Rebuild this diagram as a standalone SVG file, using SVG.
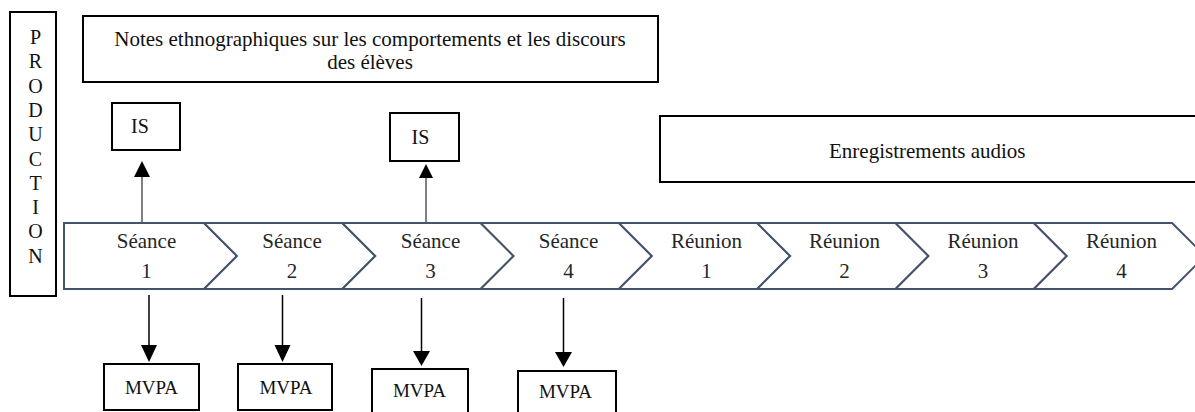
<svg xmlns="http://www.w3.org/2000/svg" width="1195" height="412" viewBox="0 0 1195 412">
<style>
  .box{fill:#fff;stroke:#000;stroke-width:2}
  .chev{fill:#fff;stroke:#44546a;stroke-width:2;stroke-linejoin:miter}
  text{font-family:'Liberation Serif',Tinos,'Times New Roman','Noto Serif','DejaVu Serif',serif;fill:#111}
  .big{font-size:21px}
  .ct{font-size:21px;fill:#262626;text-anchor:middle}
  .mid{text-anchor:middle}
  .up{stroke:#555;stroke-width:1.5;fill:none}
  .dn{stroke:#000;stroke-width:1.5;fill:none}
  .head{fill:#000}
</style>
<rect width="1195" height="412" fill="#fff"/>
<g font-family="Liberation Serif, Tinos, Times New Roman, DejaVu Serif, serif">

<g id="production">
  <rect class="box" x="10" y="12" width="46" height="284"/>
  <g class="mid" font-size="20" text-anchor="middle">
    <text x="35.5" y="44">P</text>
    <text x="35.5" y="68.3">R</text>
    <text x="35.5" y="92.6">O</text>
    <text x="35.5" y="116.9">D</text>
    <text x="35.5" y="141.2">U</text>
    <text x="35.5" y="165.5">C</text>
    <text x="35.5" y="189.8">T</text>
    <text x="35.5" y="214.1">I</text>
    <text x="35.5" y="238.4">O</text>
    <text x="35.5" y="262.7">N</text>
  </g>
</g>

<g id="notes">
  <rect class="box" x="83" y="16" width="575" height="66"/>
  <text class="big mid" x="370" y="46">Notes ethnographiques sur les comportements et les discours</text>
  <text class="big mid" x="370" y="69">des élèves</text>
</g>

<g id="is1">
  <rect class="box" x="112" y="103" width="68" height="47"/>
  <text font-size="20" x="131" y="133">IS</text>
</g>
<g id="is2">
  <rect class="box" x="390" y="113" width="69" height="48"/>
  <text font-size="20" x="411.5" y="144">IS</text>
</g>

<g id="audios">
  <rect class="box" x="660" y="116" width="560" height="66"/>
  <text class="big" x="829" y="158">Enregistrements audios</text>
</g>

<g id="seance1">
  <polygon class="chev" points="64,223 204,223 237,256 204,289 64,289"/>
  <text class="ct" x="146.5" y="248">Séance</text>
  <text class="ct" x="146.5" y="278">1</text>
</g>
<g id="seance2">
  <polygon class="chev" points="204,223 342.3,223 375.3,256 342.3,289 204,289 237,256"/>
  <text class="ct" x="292" y="248">Séance</text>
  <text class="ct" x="292" y="278">2</text>
</g>
<g id="seance3">
  <polygon class="chev" points="342.3,223 480.6,223 513.6,256 480.6,289 342.3,289 375.3,256"/>
  <text class="ct" x="430.5" y="248">Séance</text>
  <text class="ct" x="430.5" y="278">3</text>
</g>
<g id="seance4">
  <polygon class="chev" points="480.6,223 618.9,223 651.9,256 618.9,289 480.6,289 513.6,256"/>
  <text class="ct" x="568.5" y="248">Séance</text>
  <text class="ct" x="568.5" y="278">4</text>
</g>
<g id="reunion1">
  <polygon class="chev" points="618.9,223 757.2,223 790.2,256 757.2,289 618.9,289 651.9,256"/>
  <text class="ct" x="706.5" y="248">Réunion</text>
  <text class="ct" x="706.5" y="278">1</text>
</g>
<g id="reunion2">
  <polygon class="chev" points="757.2,223 895.5,223 928.5,256 895.5,289 757.2,289 790.2,256"/>
  <text class="ct" x="844.5" y="248">Réunion</text>
  <text class="ct" x="844.5" y="278">2</text>
</g>
<g id="reunion3">
  <polygon class="chev" points="895.5,223 1033.8,223 1066.8,256 1033.8,289 895.5,289 928.5,256"/>
  <text class="ct" x="983" y="248">Réunion</text>
  <text class="ct" x="983" y="278">3</text>
</g>
<g id="reunion4">
  <polygon class="chev" points="1033.8,223 1172.1,223 1205.1,256 1172.1,289 1033.8,289 1066.8,256"/>
  <text class="ct" x="1121.5" y="248">Réunion</text>
  <text class="ct" x="1121.5" y="278">4</text>
</g>

<g id="mvpa1">
  <rect class="box" x="104" y="364" width="95" height="46"/>
  <text class="mid" font-size="19" x="151.5" y="394">MVPA</text>
</g>
<g id="mvpa2">
  <rect class="box" x="238" y="364" width="94" height="46"/>
  <text class="mid" font-size="19" x="286" y="394">MVPA</text>
</g>
<g id="mvpa3">
  <rect class="box" x="372" y="369" width="96" height="50"/>
  <text class="mid" font-size="19" x="419.5" y="397">MVPA</text>
</g>
<g id="mvpa4">
  <rect class="box" x="518" y="371" width="98" height="50"/>
  <text class="mid" font-size="19" x="565.5" y="398">MVPA</text>
</g>

<g id="connectors">
  <line class="up" x1="142" y1="222" x2="142" y2="176"/>
  <polygon class="head" points="142,161 134,177 150,177"/>
  <line class="up" x1="426" y1="222" x2="426" y2="176"/>
  <polygon class="head" points="426,164 419,178 433,178"/>

  <line class="dn" x1="149" y1="295" x2="149" y2="346"/>
  <polygon class="head" points="141,345 157,345 149,362"/>
  <line class="dn" x1="282.5" y1="295" x2="282.5" y2="346"/>
  <polygon class="head" points="274.5,345 290.5,345 282.5,362"/>
  <line class="dn" x1="421.5" y1="298" x2="421.5" y2="352"/>
  <polygon class="head" points="413,351 430,351 421.5,366"/>
  <line class="dn" x1="563.5" y1="298" x2="563.5" y2="353"/>
  <polygon class="head" points="555,352 572,352 563.5,367"/>
</g>
</g>
</svg>
